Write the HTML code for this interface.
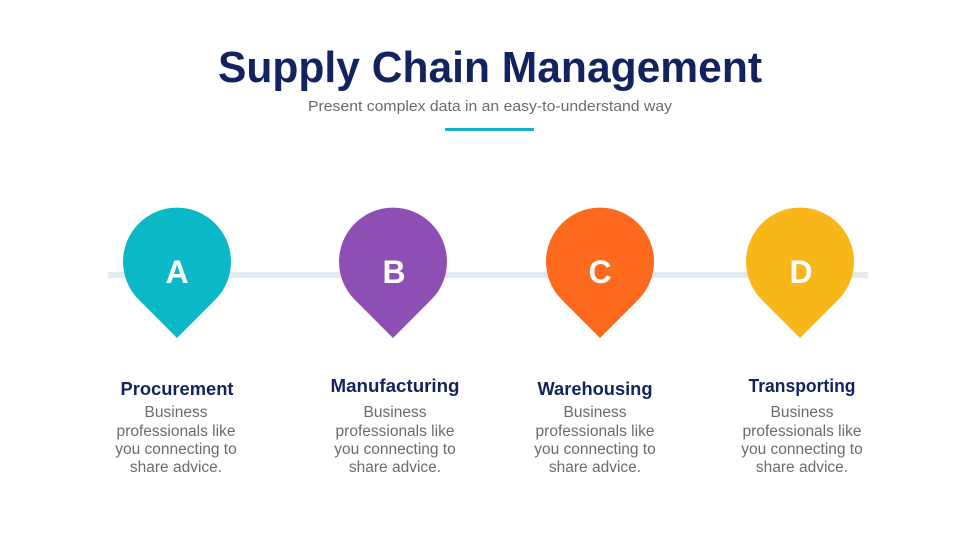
<!DOCTYPE html>
<html><head><meta charset="utf-8"><style>html,body{margin:0;padding:0;background:#fff}svg{display:block}</style></head>
<body>
<svg width="980" height="551" viewBox="0 0 980 551" xmlns="http://www.w3.org/2000/svg" font-family="'Liberation Sans', sans-serif">
<rect width="980" height="551" fill="#fff"/>
<text x="490" y="82" text-anchor="middle" font-size="44" font-weight="bold" fill="#13235f" textLength="544" lengthAdjust="spacingAndGlyphs">Supply Chain Management</text>
<text x="490" y="111" text-anchor="middle" font-size="15" fill="#6b6b6b" textLength="364" lengthAdjust="spacingAndGlyphs">Present complex data in an easy-to-understand way</text>
<rect x="445" y="128" width="89" height="3" fill="#12b3c4"/>
<rect x="108" y="272" width="760" height="6" fill="#e3eaee"/>
<g>
<path d="M177,338 L138.8,299.8 A54,54 0 1 1 215.2,299.8 Z" fill="#0ab8c8"/>
<path d="M393,338 L354.8,299.8 A54,54 0 1 1 431.2,299.8 Z" fill="#8e4fb5"/>
<path d="M600,338 L561.8,299.8 A54,54 0 1 1 638.2,299.8 Z" fill="#fd6a1d"/>
<path d="M800,338 L761.8,299.8 A54,54 0 1 1 838.2,299.8 Z" fill="#f8b618"/>
</g>
<g font-size="32" font-weight="bold" fill="#fff" text-anchor="middle">
<text x="177" y="283">A</text><text x="394" y="283">B</text><text x="600" y="283">C</text><text x="801" y="283">D</text>
</g>
<g font-size="18" font-weight="bold" fill="#13235f" text-anchor="middle">
<text x="177" y="395" textLength="113" lengthAdjust="spacingAndGlyphs">Procurement</text>
<text x="395" y="392" textLength="129" lengthAdjust="spacingAndGlyphs">Manufacturing</text>
<text x="595" y="395" textLength="115" lengthAdjust="spacingAndGlyphs">Warehousing</text>
<text x="802" y="392" textLength="107" lengthAdjust="spacingAndGlyphs">Transporting</text>
</g>
<g font-size="15.5" fill="#6b6b6b" text-anchor="middle">
<text x="176" y="417">Business</text><text x="176" y="436">professionals like</text><text x="176" y="454">you connecting to</text><text x="176" y="472">share advice.</text>
<text x="395" y="417">Business</text><text x="395" y="436">professionals like</text><text x="395" y="454">you connecting to</text><text x="395" y="472">share advice.</text>
<text x="595" y="417">Business</text><text x="595" y="436">professionals like</text><text x="595" y="454">you connecting to</text><text x="595" y="472">share advice.</text>
<text x="802" y="417">Business</text><text x="802" y="436">professionals like</text><text x="802" y="454">you connecting to</text><text x="802" y="472">share advice.</text>
</g>
</svg>
</body></html>
